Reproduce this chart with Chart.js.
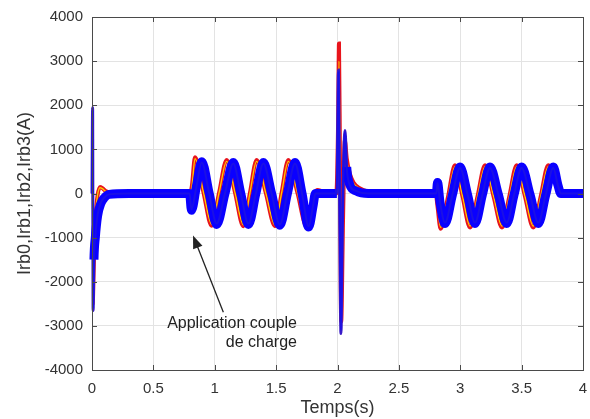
<!DOCTYPE html>
<html>
<head>
<meta charset="utf-8">
<script src="https://cdn.jsdelivr.net/npm/chart.js@4.4.0/dist/chart.umd.min.js"></script>
<style>
  html, body { margin: 0; padding: 0; background: #fff; }
  #wrap { width: 590px; height: 419px; }
</style>
</head>
<body>
<div id="wrap"><canvas id="chart" width="590" height="419"></canvas></div>
<script>
// tick labels
const xTickLabels = ['0', '0.5', '1', '1.5', '2', '2.5', '3', '3.5', '4'];
const yTickLabels = ['-4000', '-3000', '-2000', '-1000', '0', '1000', '2000', '3000', '4000'];

// time base for Irb0 / Irb1 (s)
const tRed = [0, 0.006, 0.012, 0.02, 0.03, 0.045, 0.065, 0.085, 0.11, 0.15, 0.25, 0.5, 0.79,
  0.80, 0.815, 0.839, 0.907, 0.975, 1.036, 1.097, 1.165, 1.233, 1.287, 1.341, 1.416, 1.491, 1.545, 1.599, 1.674, 1.749, 1.79, 1.815, 1.84, 1.9, 1.99,
  2.005, 2.012, 2.02, 2.03, 2.045, 2.06, 2.075, 2.1, 2.13, 2.18, 2.25, 2.4, 2.8,
  2.815, 2.84, 2.90, 2.957, 3.018, 3.08, 3.141, 3.202, 3.271, 3.34, 3.40, 3.46, 3.527, 3.595, 3.656, 3.717, 3.77, 3.80, 3.84, 4.0];

const irb0 = [-300, -2500, -1900, -1100, -500, -50, 150, 120, 60, 20, 0, 0, 0,
  0, 200, 820, 40, -730, 30, 760, 20, -740, 20, 760, 10, -740, 20, 760, 10, -750, -400, 0, 80, 20, 0,
  1600, 3400, 800, -2900, -600, 1200, 800, 450, 250, 120, 40, 0, 0,
  -300, -800, -80, 640, -60, -770, -60, 640, -60, -770, -60, 640, -60, -770, -60, 640, 300, 60, 0, 0];

const irb1 = [-200, -1800, -1500, -900, -400, -40, 130, 110, 50, 20, 0, 0, 0,
  0, 180, 790, 40, -700, 30, 730, 20, -710, 20, 730, 10, -710, 20, 730, 10, -720, -380, 0, 70, 20, 0,
  1500, 3000, 700, -2700, -550, 1150, 750, 420, 230, 110, 40, 0, 0,
  -280, -770, -80, 610, -60, -740, -60, 610, -60, -740, -60, 610, -60, -740, -60, 610, 280, 50, 0, 0];

// time base for Irb2 / Irb3 (s)
const tBlue = [0, 0.005, 0.009, 0.016, 0.027, 0.046, 0.073, 0.1, 0.14, 0.3, 0.6, 0.795,
  0.81, 0.85, 0.894, 0.955, 1.016, 1.083, 1.151, 1.212, 1.274, 1.335, 1.396, 1.463, 1.53, 1.592, 1.654, 1.711, 1.765, 1.8, 1.82, 1.86, 1.995,
  2.008, 2.016, 2.028, 2.042, 2.061, 2.075, 2.1, 2.15, 2.25, 2.805,
  2.815, 2.835, 2.876, 2.937, 2.998, 3.059, 3.12, 3.181, 3.242, 3.31, 3.378, 3.439, 3.5, 3.568, 3.636, 3.697, 3.758, 3.795, 3.82, 4.0];

const irb2 = [0, 1950, -2650, -1500, -1000, -500, -220, -100, -20, 0, 0, 0,
  -380, 150, 720, 0, -700, 0, 700, 0, -700, 0, 700, 0, -720, 0, 700, 0, -760, -300, 0, 0, 0,
  2800, 400, -3175, -400, 1430, 600, 200, 60, 0, 0,
  250, -200, -680, -20, 600, -20, -680, -20, 600, -20, -680, -20, 600, -20, -680, -20, 600, 200, 0, 0];

const irb3 = [0, 1900, -2600, -1450, -980, -480, -200, -90, -20, 0, 0, 0,
  -360, 140, 700, 0, -680, 0, 680, 0, -680, 0, 680, 0, -700, 0, 680, 0, -740, -290, 0, 0, 0,
  2750, 380, -3100, -380, 1400, 580, 190, 60, 0, 0,
  240, -190, -660, -20, 580, -20, -660, -20, 580, -20, -660, -20, 580, -20, -660, -20, 580, 190, 0, 0];

const toPts = (ts, vs) => ts.map((t, i) => ({ x: t, y: vs[i] }));

// blue trace is thinner where it moves fast (start and the 2 s transient)
const fastPart = ctx => ctx.p1.parsed.x <= 0.016 || (ctx.p0.parsed.x >= 1.99 && ctx.p1.parsed.x <= 2.08);

const frame = {
  id: 'frame',
  afterDatasetsDraw(chart) {
    const { ctx, chartArea: a, scales: { x, y } } = chart;
    ctx.save();
    ctx.strokeStyle = '#4a4a4a';
    ctx.lineWidth = 1;
    ctx.beginPath();
    xTickLabels.forEach(l => {
      const px = Math.round(x.getPixelForValue(parseFloat(l))) + 0.5;
      ctx.moveTo(px, a.bottom); ctx.lineTo(px, a.bottom - 5);
      ctx.moveTo(px, a.top); ctx.lineTo(px, a.top + 5);
    });
    yTickLabels.forEach(l => {
      const py = Math.round(y.getPixelForValue(parseFloat(l))) + 0.5;
      ctx.moveTo(a.left, py); ctx.lineTo(a.left + 5, py);
      ctx.moveTo(a.right, py); ctx.lineTo(a.right - 5, py);
    });
    ctx.stroke();
    ctx.strokeRect(Math.round(a.left) + 0.5, Math.round(a.top) + 0.5, Math.round(a.right - a.left), Math.round(a.bottom - a.top));

    // annotation
    const tipX = x.getPixelForValue(0.823), tipY = y.getPixelForValue(-950);
    const tailX = x.getPixelForValue(1.07), tailY = y.getPixelForValue(-2690);
    const ang = Math.atan2(tipY - tailY, tipX - tailX);
    ctx.strokeStyle = '#222';
    ctx.fillStyle = '#222';
    ctx.lineWidth = 1.3;
    ctx.beginPath();
    ctx.moveTo(tailX, tailY);
    ctx.lineTo(tipX - 8 * Math.cos(ang), tipY - 8 * Math.sin(ang));
    ctx.stroke();
    ctx.beginPath();
    ctx.moveTo(tipX, tipY);
    ctx.lineTo(tipX - 13 * Math.cos(ang) + 5 * Math.sin(ang), tipY - 13 * Math.sin(ang) - 5 * Math.cos(ang));
    ctx.lineTo(tipX - 13 * Math.cos(ang) - 5 * Math.sin(ang), tipY - 13 * Math.sin(ang) + 5 * Math.cos(ang));
    ctx.closePath();
    ctx.fill();
    ctx.font = '16px "Liberation Sans", Arial, sans-serif';
    ctx.textAlign = 'right';
    ctx.textBaseline = 'middle';
    const tx = x.getPixelForValue(1.67);
    ctx.fillText('Application couple', tx, y.getPixelForValue(-2950));
    ctx.fillText('de charge', tx, y.getPixelForValue(-3370));
    ctx.restore();
  }
};

const font = { family: '"Liberation Sans", Arial, sans-serif', size: 15 };

new Chart(document.getElementById('chart'), {
  type: 'line',
  data: {
    datasets: [
      {
        label: 'Irb3',
        data: toPts(tBlue, irb3),
        borderColor: '#1a10e6',
        borderWidth: 2,
        cubicInterpolationMode: 'monotone',
        pointRadius: 0,
        clip: { left: 4, top: 0, right: 0, bottom: 0 },
        order: 0
      },
      {
        label: 'Irb2',
        data: toPts(tBlue, irb2),
        borderColor: '#0a00ff',
        borderWidth: 9,
        cubicInterpolationMode: 'monotone',
        pointRadius: 0,
        clip: { left: 4, top: 0, right: 0, bottom: 0 },
        order: 1,
        segment: {
          borderWidth: ctx => fastPart(ctx) ? 3 : undefined,
          borderColor: ctx => fastPart(ctx) ? '#3a1cc8' : undefined
        }
      },
      {
        label: 'Irb1',
        data: toPts(tRed, irb1),
        borderColor: '#ffcc00',
        borderWidth: 1.3,
        cubicInterpolationMode: 'monotone',
        pointRadius: 0,
        order: 2
      },
      {
        label: 'Irb0',
        data: toPts(tRed, irb0),
        borderColor: '#e8141c',
        borderWidth: 4,
        cubicInterpolationMode: 'monotone',
        pointRadius: 0,
        order: 3
      }
    ]
  },
  options: {
    responsive: false,
    animation: false,
    layout: { padding: { top: 17, right: 7, left: 0, bottom: 0 } },
    plugins: { legend: { display: false }, tooltip: { enabled: false } },
    scales: {
      x: {
        type: 'linear',
        min: 0,
        max: 4,
        afterBuildTicks: s => { s.ticks = xTickLabels.map(l => ({ value: parseFloat(l) })); },
        afterFit: s => { s.height = 49; s.paddingLeft = 0; s.paddingRight = 0; },
        grid: { color: '#e3e3e3', drawTicks: false },
        border: { color: '#4a4a4a' },
        ticks: {
          color: '#333',
          font,
          padding: 10,
          maxRotation: 0,
          callback: (v, i) => xTickLabels[i]
        },
        title: {
          display: true,
          text: 'Temps(s)',
          color: '#333',
          font: { family: font.family, size: 18 },
          padding: { top: 0, bottom: 0 }
        }
      },
      y: {
        type: 'linear',
        min: -4000,
        max: 4000,
        afterBuildTicks: s => { s.ticks = yTickLabels.map(l => ({ value: parseFloat(l) })); },
        afterFit: s => { s.width = 92; s.paddingTop = 0; s.paddingBottom = 0; },
        grid: { color: '#e3e3e3', drawTicks: false },
        border: { color: '#4a4a4a' },
        ticks: {
          color: '#333',
          font,
          padding: 9,
          callback: (v, i) => yTickLabels[i]
        },
        title: {
          display: true,
          text: 'Irb0,Irb1,Irb2,Irb3(A)',
          color: '#333',
          font: { family: font.family, size: 18 },
          padding: { top: 14, bottom: 0 }
        }
      }
    }
  },
  plugins: [frame]
});
</script>
</body>
</html>
